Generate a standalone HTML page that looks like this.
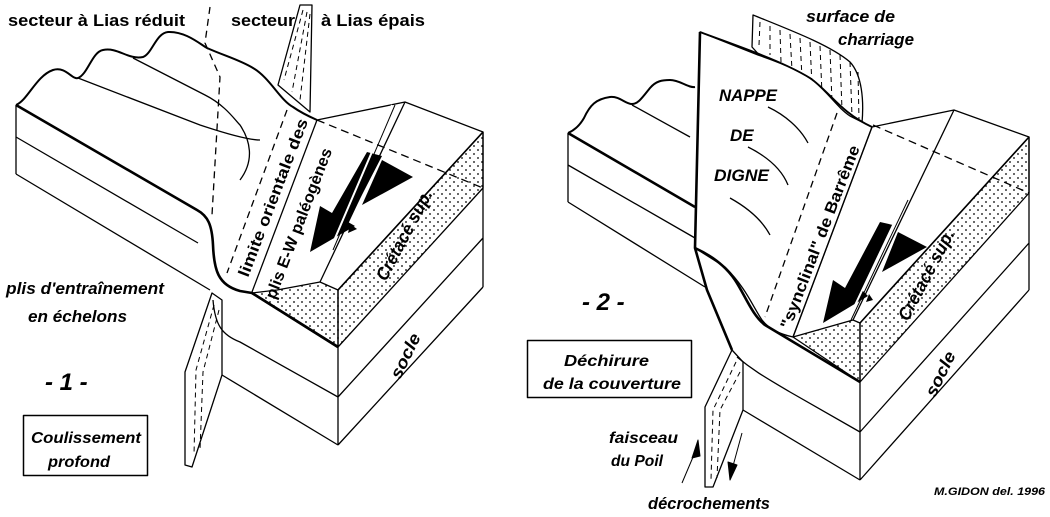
<!DOCTYPE html>
<html><head><meta charset="utf-8"><style>
html,body{margin:0;padding:0;background:#fff;}
svg{display:block;}
text{font-family:"Liberation Sans",sans-serif;fill:#000;font-weight:bold;}
.i{font-style:italic;}
</style></head><body>
<svg width="1050" height="517" viewBox="0 0 1050 517" xmlns="http://www.w3.org/2000/svg">
<defs>
<pattern id="dots" width="8" height="8" patternUnits="userSpaceOnUse">
<circle cx="2" cy="2" r="0.9" fill="#000"/><circle cx="6" cy="6" r="0.9" fill="#000"/>
</pattern>
</defs>
<g fill="none" stroke="#000" stroke-width="1.3" stroke-linejoin="round">
<!-- ============ LEFT PANEL ============ -->
<path d="M300,5 L312,5 L310,112 L278,85 Z" fill="#fff"/>
<path d="M303,10 L284,80 M307,12 L292,92 M310,14 L300,100" stroke-dasharray="5,4" stroke-width="1"/>
<path d="M16,105 C28,100 36,76 53,70 C66,66 72,80 78,78 C88,74 92,52 103,50 C118,47 128,60 143,57 C152,54 156,33 168,32 C185,31 200,44 207,48 C225,56 240,60 253,68 C270,78 280,100 293,107 C300,112 308,116 317,120" fill="#fff" stroke-width="2"/>
<path d="M78,78 L200,125 C230,135 250,140 260,140"/>
<path d="M133,58 L205,95 C225,105 235,120 240,125 C250,140 255,160 240,180"/>
<path d="M16,105 L16,174"/>
<path d="M16,137 L198,243"/>
<path d="M16,174 L210,290"/>
<path d="M210,7 L205,43 L220,77 L212,215" stroke-dasharray="7,5"/>
<path d="M287,110 L227,273" stroke-dasharray="7,5"/>
<path d="M16,105 L197,210 C208,216 212,225 213,245 C214,270 218,285 240,291 L252,293 L338,347" stroke-width="2.6"/>
<path d="M212,293 L222,300 L222,375 L192,467 L185,465 L185,372 Z" fill="#fff"/>
<path d="M214,305 L196,370 L194,455 M219,310 L203,372 L200,450" stroke-dasharray="5,4" stroke-width="1"/>
<path d="M213,300 C215,325 222,335 240,342 L338,397"/>
<path d="M222,375 L338,445"/>
<path d="M317,120 L405,102 L483,132 L338,290 L320,282 Z" fill="#fff" stroke="none"/>
<path d="M317,120 L405,102 L483,132"/>
<path d="M405,102 L320,282"/>
<path d="M317,120 L252,292"/>
<path d="M317,120 L483,188" stroke-dasharray="8,5"/>
<path d="M252,293 L277,290 L320,282 L338,290 L338,347 Z" fill="url(#dots)"/>
<path d="M338,290 L483,132 L483,188 L338,347 Z" fill="url(#dots)"/>
<path d="M338,347 L338,445 M483,132 L483,287 M338,397 L483,238 M338,445 L483,287"/>
<path d="M252,293 L338,347" stroke-width="2.6"/>
<path d="M338,290 L483,132" stroke-width="1.6"/>
<path d="M367,152 L382,156 L348,222 L355,226 L310,252 L320,206 L332,213 Z" fill="#000" stroke="none"/>
<path d="M382,160 L413,177 L362,205 Z" fill="#000" stroke="none"/>
<path d="M350,224 L357,229 L348,233 Z" fill="#000" stroke="none"/>
<path d="M392,105 L330,250" stroke="#fff" stroke-width="2"/>
<path d="M395,105 L333,250" stroke-width="1"/>

<!-- ============ RIGHT PANEL ============ -->
<path d="M753,15 C790,30 830,45 850,62 C862,75 864,100 862,123 L800,100 L752,47 Z" fill="#fff"/>
<path d="M760,22 L759,45 M770,26 L770,55 M780,30 L781,62 M790,34 L792,70 M800,38 L802,78 M810,42 L812,86 M820,46 L822,94 M830,50 L832,102 M840,55 L842,110 M850,62 L852,116 M858,72 L859,120" stroke-dasharray="5,4" stroke-width="1"/>
<path d="M568,133 C575,130 580,125 584,118 C590,105 596,99 610,97 C620,96 625,104 632,104 C638,104 642,98 650,88 C656,81 662,80 670,80 C680,80 688,88 695,87" fill="#fff" stroke-width="2"/>
<path d="M632,105 L690,137"/>
<path d="M568,133 L568,202 M568,165 L695,238 M568,202 L705,287"/>
<path d="M568,133 L695,207" stroke-width="2.6"/>
<path d="M700,32 L758,55 C790,66 805,74 815,82 C830,95 838,108 850,116 L872,127 L793,337 C780,334 770,330 762,320 C752,305 746,288 725,267 L695,248 Z" fill="#fff"/>
<path d="M700,32 C740,47 780,60 810,78 C830,92 840,112 872,127" stroke-width="1.8"/>
<path d="M768,107 C785,115 800,128 808,143 M748,147 C768,157 782,170 788,185 M730,198 C748,208 762,220 770,235"/>
<path d="M837,113 L765,317" stroke-dasharray="7,5"/>
<path d="M732,350 L743,362 L743,410 L713,487 L705,487 L705,407 Z" fill="#fff"/>
<path d="M736,362 L713,410 L711,480 M740,372 L720,410 L717,478" stroke-dasharray="5,4" stroke-width="1"/>
<path d="M737,357 C755,372 770,380 790,392 L860,432"/>
<path d="M743,410 L860,480"/>
<path d="M873,125 L954,110 L1029,137 L860,323 L853,320 Z" fill="#fff" stroke="none"/>
<path d="M872,127 L954,110 L1029,137"/>
<path d="M954,110 L853,320"/>
<path d="M872,127 L793,337"/>
<path d="M873,125 L1029,193" stroke-dasharray="8,5"/>
<path d="M793,337 L853,320 L860,323 L860,382 Z" fill="url(#dots)"/>
<path d="M860,323 L1029,137 L1029,193 L860,382 Z" fill="url(#dots)"/>
<path d="M860,382 L860,480 M1029,137 L1029,290 M860,432 L1029,243 M860,480 L1029,290"/>
<path d="M860,323 L1029,137" stroke-width="1.6"/>
<path d="M700,32 L695,248 L707,290 L732,350" stroke-width="2.6"/>
<path d="M695,248 C710,255 725,265 735,280 C745,295 752,315 765,325 L860,382" stroke-width="2.6"/>
<path d="M880,222 L893,225 L862,290 L868,296 L823,323 L833,280 L845,288 Z" fill="#000" stroke="none"/>
<path d="M898,232 L927,247 L882,272 Z" fill="#000" stroke="none"/>
<path d="M869,294 L873,300 L866,302 Z" fill="#000" stroke="none"/>
<path d="M905,200 L848,320" stroke="#fff" stroke-width="2"/>
<path d="M908,200 L851,320" stroke-width="1"/>
<path d="M682,483 L696,450" stroke-width="1"/>
<path d="M698,440 L692,458 L700,456 Z" fill="#000" stroke-width="1"/>
<path d="M742,433 L733,466" stroke-width="1"/>
<path d="M730,480 L728,462 L737,465 Z" fill="#000" stroke-width="1"/>
<rect x="23.5" y="415.5" width="124" height="60" stroke-width="1.5"/>
<rect x="527.5" y="340.5" width="164" height="57" stroke-width="1.5"/>
</g>

<text x="8" y="26" font-size="17" textLength="177" lengthAdjust="spacingAndGlyphs">secteur à  Lias réduit</text>
<text x="231" y="26" font-size="17" textLength="64" lengthAdjust="spacingAndGlyphs">secteur</text>
<text x="321" y="26" font-size="17" textLength="104" lengthAdjust="spacingAndGlyphs">à  Lias épais</text>
<text class="i" x="6" y="294" font-size="17" textLength="158" lengthAdjust="spacingAndGlyphs">plis d'entraînement</text>
<text class="i" x="28" y="322" font-size="17" textLength="99" lengthAdjust="spacingAndGlyphs">en échelons</text>
<text class="i" x="45" y="390" font-size="24">- 1 -</text>
<text class="i" x="31" y="443" font-size="16" textLength="110" lengthAdjust="spacingAndGlyphs">Coulissement</text>
<text class="i" x="48" y="467" font-size="16" textLength="62" lengthAdjust="spacingAndGlyphs">profond</text>
<text x="0" y="0" font-size="16" transform="translate(248,278) rotate(-69)" textLength="168" lengthAdjust="spacingAndGlyphs">limite orientale des</text>
<text x="0" y="0" font-size="16" transform="translate(275,300) rotate(-69)" textLength="160" lengthAdjust="spacingAndGlyphs">plis E-W paléogènes</text>
<text class="i" x="0" y="0" font-size="18" transform="translate(386,282) rotate(-62)" textLength="100" lengthAdjust="spacingAndGlyphs">Crétacé sup.</text>
<text class="i" x="0" y="0" font-size="17" transform="translate(400,380) rotate(-64)" textLength="48" lengthAdjust="spacingAndGlyphs">socle</text>

<text class="i" x="806" y="22" font-size="17" textLength="89" lengthAdjust="spacingAndGlyphs">surface de</text>
<text class="i" x="838" y="45" font-size="17" textLength="76" lengthAdjust="spacingAndGlyphs">charriage</text>
<text class="i" x="719" y="101" font-size="17" textLength="58" lengthAdjust="spacingAndGlyphs">NAPPE</text>
<text class="i" x="730" y="141" font-size="17">DE</text>
<text class="i" x="714" y="181" font-size="17" textLength="55" lengthAdjust="spacingAndGlyphs">DIGNE</text>
<text x="0" y="0" font-size="16" transform="translate(790,330) rotate(-69)" textLength="195" lengthAdjust="spacingAndGlyphs">"synclinal" de Barrême</text>
<text class="i" x="0" y="0" font-size="18" transform="translate(908,322) rotate(-62)" textLength="100" lengthAdjust="spacingAndGlyphs">Crétacé sup.</text>
<text class="i" x="0" y="0" font-size="17" transform="translate(935,398) rotate(-64)" textLength="48" lengthAdjust="spacingAndGlyphs">socle</text>
<text class="i" x="582" y="310" font-size="24">- 2 -</text>
<text class="i" x="564" y="366" font-size="16" textLength="85" lengthAdjust="spacingAndGlyphs">Déchirure</text>
<text class="i" x="543" y="389" font-size="16" textLength="138" lengthAdjust="spacingAndGlyphs">de la couverture</text>
<text class="i" x="609" y="443" font-size="16" textLength="69" lengthAdjust="spacingAndGlyphs">faisceau</text>
<text class="i" x="611" y="466" font-size="16" textLength="52" lengthAdjust="spacingAndGlyphs">du Poil</text>
<text class="i" x="648" y="509" font-size="17" textLength="122" lengthAdjust="spacingAndGlyphs">décrochements</text>
<text class="i" x="934" y="495" font-size="11" textLength="111" lengthAdjust="spacingAndGlyphs">M.GIDON del. 1996</text>
</svg>
</body></html>
